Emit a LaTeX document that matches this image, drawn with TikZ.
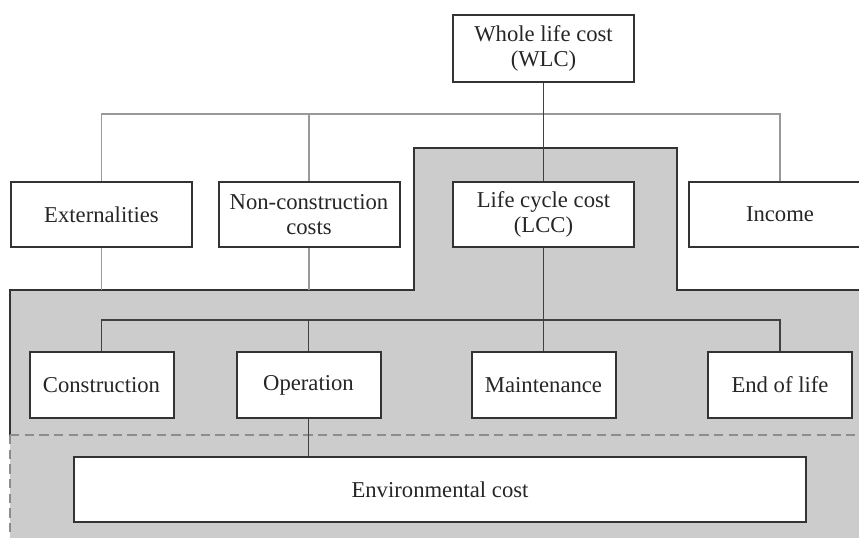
\documentclass[tikz,border=0pt]{standalone}
\usepackage{fontspec}
\setmainfont{Liberation Serif}
\begin{document}
\begin{tikzpicture}[x=0.75pt,y=-0.75pt,
  box/.style={draw=black!80,line width=1.5pt,fill=white,inner sep=0pt,
    align=center,text=black!85,font=\fontsize{17}{19}\selectfont},
  topbox/.style={box,minimum width=181*0.75pt,minimum height=65*0.75pt},
  subbox/.style={box,minimum width=144*0.75pt,minimum height=66*0.75pt},
  thinlink/.style={draw=black!40,line width=0.8pt},
  link/.style={draw=black!75,line width=0.9pt},
  border/.style={draw=black!80,line width=1.3pt},
  dashline/.style={draw=black!45,line width=1pt,dash pattern=on 7pt off 4pt}]
\clip (0,0) rectangle (859,538);
\fill[white] (0,0) rectangle (859,538);

% shaded LCC region
\fill[black!20] (10,290) -- (414,290) -- (414,148) -- (677,148) -- (677,290)
  -- (870,290) -- (870,545) -- (10,545) -- cycle;
\draw[border] (10,435) -- (10,290) -- (414,290) -- (414,148) -- (677,148)
  -- (677,290) -- (870,290);
\draw[dashline] (10,435) -- (870,435);
\draw[dashline] (10,435) -- (10,545);

% nodes
\node[topbox,minimum height=67*0.75pt] (wlc) at (543.5,48.5) {Whole life cost\\(WLC)};
\node[topbox] (ext) at (101.5,214.5) {Externalities};
\node[topbox] (ncc) at (309,214.5) {Non-construction\\costs};
\node[topbox] (lcc) at (543.5,214.5) {Life cycle cost\\(LCC)};
\node[topbox,minimum width=182*0.75pt] (inc) at (780,214.5) {Income};

\node[subbox] (con) at (101.5,385) {Construction};
\node[subbox] (ope) at (308.5,385) {Operation};
\node[subbox] (mai) at (543.5,385) {Maintenance};
\node[subbox] (eol) at (780,385) {End of life};

\node[box,minimum width=732*0.75pt,minimum height=65*0.75pt] (env) at (440,489.5) {Environmental cost};

% anchor points on the gray border
\coordinate (extfoot) at (ext.south |- 0,290);
\coordinate (nccfoot) at (ncc.south |- 0,290);

% whole life cost branches
\draw[thinlink] (ext.north) -- ++(0,-67) -| (inc.north);
\draw[thinlink] (ncc.north) -- (ncc.north |- 0,115);
\draw[link] (wlc.south) -- (lcc.north);
\draw[thinlink] (ext.south) -- (extfoot);
\draw[thinlink] (ncc.south) -- (nccfoot);

% life cycle cost branches
\draw[link] (lcc.south) -- (mai.north);
\draw[link] (con.north) -- ++(0,-31) -| (eol.north);
\draw[link] (ope.north) -- (ope.north |- 0,321);
\draw[link] (ope.south) -- (ope.south |- env.north);
\end{tikzpicture}
\end{document}
